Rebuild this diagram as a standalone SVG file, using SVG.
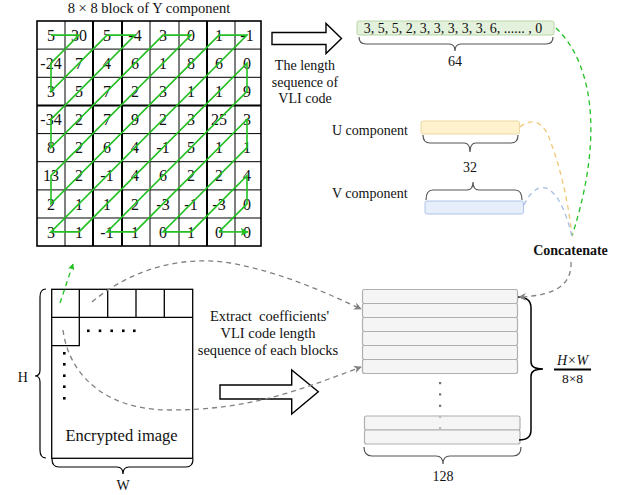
<svg xmlns="http://www.w3.org/2000/svg" width="628" height="495" viewBox="0 0 628 495" font-family="'Liberation Serif', 'Times New Roman', Times, serif">
<style>
text{font-family:'Liberation Serif','Times New Roman',Times,serif;fill:#111}
.n{font-size:16px;text-anchor:middle}
.t{font-size:14px;text-anchor:middle}
.g{stroke:#000;stroke-width:1;fill:none}
.gt{stroke:#000;stroke-width:2;fill:none}
.zz{stroke:#22c022;stroke-width:1.6;fill:none}
.brace{fill:none;stroke:#555;stroke-width:1.2}
.dash{fill:none;stroke-width:1.3;stroke-dasharray:5 4}
.row{fill:#f5f5f5;stroke:#b0b0b0;stroke-width:1.2}
.blk{fill:none;stroke:#000;stroke-width:1.3}
</style>
<defs>
<marker id="ag" viewBox="0 0 10 10" refX="9" refY="5" markerWidth="5" markerHeight="5" orient="auto"><path d="M0,0 L10,5 L0,10 L2,5 z" fill="#22c022"/></marker>
<marker id="agd" viewBox="0 0 10 10" refX="9" refY="5" markerWidth="5" markerHeight="5" orient="auto"><path d="M0,0 L10,5 L0,10 L2,5 z" fill="#22c022"/></marker>
<marker id="ay" viewBox="0 0 10 10" refX="9" refY="5" markerWidth="6" markerHeight="6" orient="auto"><path d="M0,0 L10,5 L0,10 L3,5 z" fill="#808080"/></marker>
</defs>

<g id="y-block">
<text x="149" y="12.5" style="font-size:14.5px;text-anchor:middle">8 × 8 block of Y component</text>
<rect x="37" y="21" width="224" height="225" fill="#fff" stroke="#000" stroke-width="1.6"/>
<path class="g" d="M65,21V246M150,21V246M179,21V246M235,21V246M37,49.1H261M37,77.3H261M37,133.6H261M37,161.7H261M37,189.9H261M37,218H261"/>
<path class="gt" d="M93,21V246M122,21V246M207,21V246M37,105.4H261"/>
<g class="n">
<text x="51" y="40.5">5</text><text x="79" y="40.5">30</text><text x="107" y="40.5">5</text><text x="135" y="40.5">-4</text><text x="163" y="40.5">3</text><text x="191" y="40.5">0</text><text x="219" y="40.5">1</text><text x="247" y="40.5">-1</text>
<text x="51" y="68.5">-24</text><text x="79" y="68.5">7</text><text x="107" y="68.5">4</text><text x="135" y="68.5">6</text><text x="163" y="68.5">1</text><text x="191" y="68.5">8</text><text x="219" y="68.5">6</text><text x="247" y="68.5">0</text>
<text x="51" y="96.5">3</text><text x="79" y="96.5">5</text><text x="107" y="96.5">7</text><text x="135" y="96.5">2</text><text x="163" y="96.5">3</text><text x="191" y="96.5">1</text><text x="219" y="96.5">1</text><text x="247" y="96.5">9</text>
<text x="51" y="125">-34</text><text x="79" y="125">2</text><text x="107" y="125">7</text><text x="135" y="125">9</text><text x="163" y="125">2</text><text x="191" y="125">3</text><text x="219" y="125">25</text><text x="247" y="125">3</text>
<text x="51" y="153">8</text><text x="79" y="153">2</text><text x="107" y="153">6</text><text x="135" y="153">4</text><text x="163" y="153">-1</text><text x="191" y="153">5</text><text x="219" y="153">1</text><text x="247" y="153">1</text>
<text x="51" y="181">13</text><text x="79" y="181">2</text><text x="107" y="181">-1</text><text x="135" y="181">4</text><text x="163" y="181">6</text><text x="191" y="181">2</text><text x="219" y="181">2</text><text x="247" y="181">4</text>
<text x="51" y="209.5">2</text><text x="79" y="209.5">1</text><text x="107" y="209.5">1</text><text x="135" y="209.5">2</text><text x="163" y="209.5">-3</text><text x="191" y="209.5">-1</text><text x="219" y="209.5">-3</text><text x="247" y="209.5">0</text>
<text x="51" y="237.5">3</text><text x="79" y="237.5">1</text><text x="107" y="237.5">-1</text><text x="135" y="237.5">1</text><text x="163" y="237.5">0</text><text x="191" y="237.5">1</text><text x="219" y="237.5">0</text><text x="247" y="237.5">0</text>
</g>
<polyline class="zz" points="51,35.1 79,35.1 51,63.2 51,91.3 107,35.1 135,35.1 51,119.4 51,147.6 163,35.1 191,35.1 51,175.7 51,203.8 219,35.1 247,35.1 51,231.9 79,231.9 247,63.2 247,91.3 107,231.9 135,231.9 247,119.4 247,147.6 163,231.9 191,231.9 247,175.7 247,203.8 219,231.9"/>
<path class="zz" d="M219,231.9 H248" marker-end="url(#ag)"/>
</g>

<g id="arrow-top">
<path d="M272,32.5 H326 V23.5 L341.5,38.5 L326,53.5 V44.5 H272 Z" fill="#fff" stroke="#000" stroke-width="1.4"/>
<text class="t" x="305" y="70">The length</text>
<text class="t" x="305" y="87">sequence of</text>
<text class="t" x="305" y="103">VLI code</text>
</g>

<g id="y-sequence">
<rect x="357" y="21" width="197" height="14" rx="2" fill="#e4f1dc" stroke="#b8d8a8" stroke-width="1"/>
<text x="453" y="32.5" style="font-size:14px;text-anchor:middle">3, 5, 5, 2, 3, 3, 3, 3, 3. 6, ...... , 0</text>
<path class="brace" d="M359,37 Q359,44 366,44 L449,44 Q455,44 455,51 Q455,44 461,44 L546,44 Q553,44 553,37"/>
<text x="455" y="66" style="font-size:14px;text-anchor:middle">64</text>
</g>

<g id="u-sequence">
<text x="332" y="134.5" style="font-size:14px">U component</text>
<rect x="421" y="121" width="98.5" height="13" rx="2" fill="#fff2cc" stroke="#ead9a0" stroke-width="1"/>
<path class="brace" d="M423,135 Q423,143 430,143 L464,143 Q470,143 470,152 Q470,143 476,143 L511,143 Q518,143 518,135"/>
<text x="470" y="172" style="font-size:14px;text-anchor:middle">32</text>
</g>

<g id="v-sequence">
<text x="332" y="198" style="font-size:14px">V component</text>
<path class="brace" d="M426,200 Q426,190 433,190 L467,190 Q473,190 473,182 Q473,190 479,190 L515,190 Q522,190 522,200"/>
<rect x="425" y="201" width="98.5" height="13" rx="2" fill="#e6eefb" stroke="#aec5e8" stroke-width="1"/>
</g>

<g id="concatenate">
<text x="570.5" y="254.5" style="font-size:14px;font-weight:bold;text-anchor:middle">Concatenate</text>
</g>

<g id="stack">
<rect class="row" x="362.5" y="289.5" width="155" height="14" rx="2"/>
<rect class="row" x="362.5" y="303.5" width="155" height="14" rx="2"/>
<rect class="row" x="362.5" y="317.5" width="155" height="14" rx="2"/>
<rect class="row" x="362.5" y="331.5" width="155" height="14" rx="2"/>
<rect class="row" x="362.5" y="345.5" width="155" height="14" rx="2"/>
<rect class="row" x="362.5" y="359.5" width="155" height="14" rx="2"/>
<rect class="row" x="364.5" y="416" width="155.5" height="14" rx="2"/>
<rect class="row" x="364.5" y="430" width="155.5" height="14" rx="2"/>
<g fill="#707070"><rect x="439" y="382" width="2.2" height="2.2"/><rect x="439" y="393.3" width="2.2" height="2.2"/><rect x="439" y="404.7" width="2.2" height="2.2"/></g>
<g fill="#b8b8b8"><rect x="439" y="415.7" width="2.2" height="2.2"/><rect x="439" y="427" width="2.2" height="2.2"/></g>
<path d="M518,297 Q531,297 531,308 L531,362 Q531,369 543,369 Q531,369 531,376 L531,430 Q531,440 519,440" fill="none" stroke="#000" stroke-width="1.5"/>
<text x="572.5" y="365" style="font-size:14px;font-style:italic;text-anchor:middle">H×W</text>
<line x1="554" y1="369.5" x2="591" y2="369.5" stroke="#000" stroke-width="1.8"/>
<text x="572.5" y="382.5" style="font-size:13.5px;text-anchor:middle">8×8</text>
<path class="brace" d="M364,447 Q364,456 372,456 L436,456 Q443,456 443,464 Q443,456 450,456 L513,456 Q521,456 521,447"/>
<text x="443" y="481" style="font-size:14px;text-anchor:middle">128</text>
</g>

<g id="encrypted-image">
<rect class="blk" x="51.7" y="289.3" width="141" height="169"/>
<path class="blk" d="M79.3,289.3V345.7H51.7M107.7,289.3V317.3M136,289.3V317.3M164.3,289.3V317.3M51.7,317.3H192.7"/>
<g fill="#000"><rect x="87" y="329.5" width="2.6" height="2.6"/><rect x="98.7" y="329.5" width="2.6" height="2.6"/><rect x="110.4" y="329.5" width="2.6" height="2.6"/><rect x="122" y="329.5" width="2.6" height="2.6"/><rect x="133" y="329.5" width="2.6" height="2.6"/>
<rect x="63" y="352" width="2.6" height="2.6"/><rect x="63" y="363" width="2.6" height="2.6"/><rect x="63" y="374.4" width="2.6" height="2.6"/><rect x="63" y="385.4" width="2.6" height="2.6"/><rect x="63" y="397" width="2.6" height="2.6"/></g>
<text x="121.5" y="441" style="font-size:16.5px;text-anchor:middle">Encrypted image</text>
<path d="M46,289 Q40,289 40,297 L40,370 Q40,376 35,376 Q40,376 40,382 L40,450 Q40,458 46,458" fill="none" stroke="#000" stroke-width="1.2"/>
<text x="22.7" y="382" style="font-size:14px;text-anchor:middle">H</text>
<path d="M52,459 Q52,467 59,467 L117,467 Q123,467 123,474 Q123,467 129,467 L186,467 Q193,467 193,459" fill="none" stroke="#000" stroke-width="1.2"/>
<text x="123" y="490" style="font-size:14px;text-anchor:middle">W</text>
</g>

<g id="arrow-bottom">
<path d="M220,385 H291.7 V370 L318.3,391.7 L291.7,414 V399 H220 Z" fill="#fff" stroke="#000" stroke-width="1.4"/>
<text x="269.5" y="321" xml:space="preserve" style="font-size:14.5px;text-anchor:middle">Extract  coefficients'</text>
<text x="268" y="338" style="font-size:14.5px;text-anchor:middle">VLI code length</text>
<text x="268" y="355" style="font-size:14.5px;text-anchor:middle">sequence of each blocks</text>
</g>

<g id="connectors">
<path class="dash" stroke="#22c022" stroke-width="1.6" d="M556,28 C590,60 606,130 572,236"/>
<path class="dash" stroke="#f0c878" d="M520,127 C528,120 540,118 548,135 C560,165 568,200 572,236"/>
<path class="dash" stroke="#a8c0e2" d="M524,205 C530,192 540,183 550,190 C562,200 568,220 572,237"/>
<path class="dash" stroke="#808080" d="M571,262 C572,284 556,296 519,297" marker-end="url(#ay)"/>
<path class="dash" stroke="#22c022" stroke-width="1.6" d="M60,303 L73,264" marker-end="url(#agd)"/>
<path class="dash" stroke="#808080" d="M92,302 C130,270 180,255 230,263 C280,272 320,290 361,309" marker-end="url(#ay)"/>
<path class="dash" stroke="#808080" d="M63,330 C68,370 100,410 170,410 C250,410 300,390 361,367" marker-end="url(#ay)"/>
</g>
</svg>
